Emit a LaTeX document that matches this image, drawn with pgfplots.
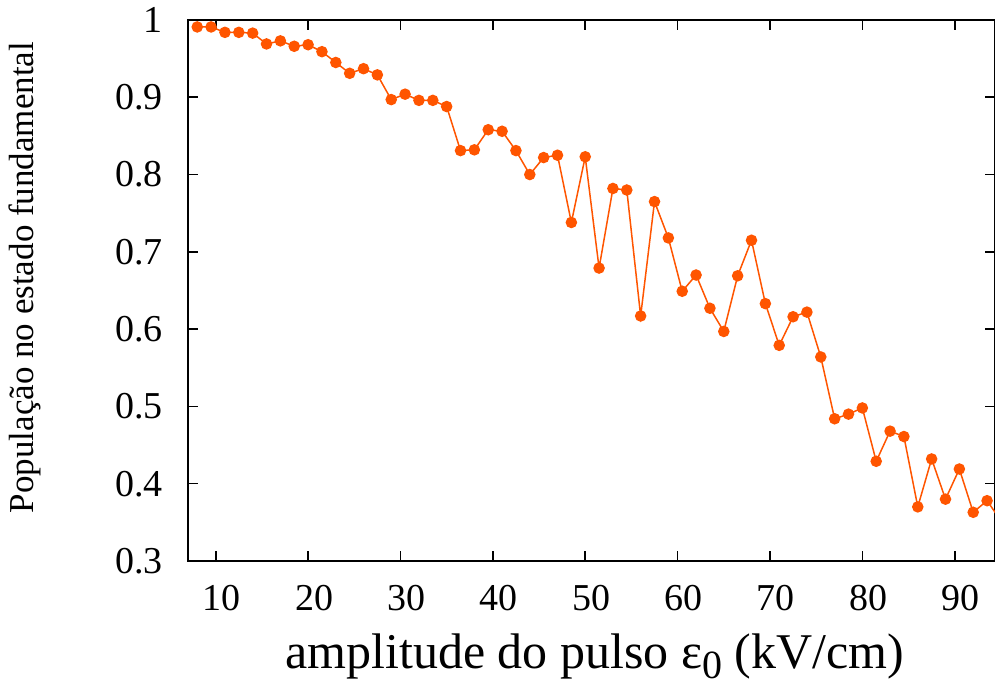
\documentclass[border=0pt]{standalone}
\usepackage{pgfplots}
\pgfplotsset{compat=1.18}
\usepackage{fontspec}
\setmainfont{Liberation Serif}
\definecolor{dataorange}{RGB}{255,85,0}
\begin{document}
\begin{tikzpicture}
\begin{axis}[
  width=403.5pt, height=270.5pt, scale only axis,
  xmin=7, xmax=94.36, ymin=0.3, ymax=1,
  xtick={10,20,30,40,50,60,70,80,90},
  ytick={0.3,0.4,0.5,0.6,0.7,0.8,0.9,1},
  tick align=inside, major tick length=5pt,
  tick style={line width=0.8pt, black},
  axis line style={line width=1pt},
  /pgf/number format/assume math mode=true,
  ticklabel style={font=\fontsize{19}{19}\selectfont},
  xticklabel style={anchor=north, inner sep=0pt, yshift=-12pt, xshift=3pt},
  yticklabel style={anchor=east, inner sep=0pt, xshift=-12.5pt},
  xlabel={amplitude do pulso ε\raisebox{-0.45ex}{\fontsize{20}{20}\selectfont 0} (kV/cm)},
  ylabel={População no estado fundamental},
  xlabel style={font=\fontsize{25}{25}\selectfont, at={(axis description cs:0.504,-0.198)}, anchor=base, inner sep=0pt},
  ylabel style={font=\fontsize{17.5}{17.5}\selectfont, at={(axis description cs:-0.202,0.524)}, anchor=center, rotate=0, inner sep=0pt},
  clip=true,
]
\addplot[color=dataorange, line width=0.75pt, mark=*, mark size=2.5pt, mark options={fill=dataorange, draw=dataorange}]
coordinates {
(8.0,0.991) (9.5,0.991) (11.0,0.984) (12.5,0.984) (14.0,0.983)
(15.5,0.969) (17.0,0.973) (18.5,0.966) (20.0,0.968) (21.5,0.959)
(23.0,0.945) (24.5,0.931) (26.0,0.937) (27.5,0.929) (29.0,0.897)
(30.5,0.904) (32.0,0.896) (33.5,0.896) (35.0,0.888) (36.5,0.831)
(38.0,0.832) (39.5,0.858) (41.0,0.856) (42.5,0.831) (44.0,0.800)
(45.5,0.822) (47.0,0.825) (48.5,0.738) (50.0,0.823) (51.5,0.679)
(53.0,0.782) (54.5,0.780) (56.0,0.617) (57.5,0.765) (59.0,0.718)
(60.5,0.649) (62.0,0.670) (63.5,0.627) (65.0,0.597) (66.5,0.669)
(68.0,0.715) (69.5,0.633) (71.0,0.579) (72.5,0.616) (74.0,0.622)
(75.5,0.564) (77.0,0.484) (78.5,0.490) (80.0,0.498) (81.5,0.429)
(83.0,0.468) (84.5,0.461) (86.0,0.370) (87.5,0.432) (89.0,0.380)
(90.5,0.419) (92.0,0.363) (93.5,0.378) (95.0,0.352)
};
\coordinate (sw) at (rel axis cs:0,0);
\coordinate (ne) at (rel axis cs:1,1);
\end{axis}
\pgfresetboundingbox
\path[use as bounding box] ([xshift=-94pt,yshift=-63.5pt]sw) rectangle ([yshift=10pt]ne);
\end{tikzpicture}
\end{document}
